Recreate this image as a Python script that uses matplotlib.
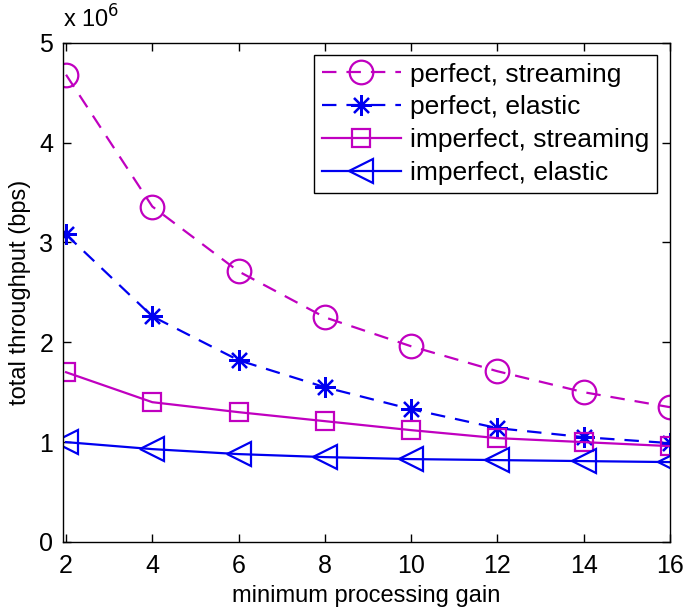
import matplotlib
matplotlib.use("Agg")
import matplotlib.pyplot as plt

plt.rcParams.update({
    "font.family": ["Liberation Sans", "DejaVu Sans"],
    "font.size": 16,
    "xtick.direction": "in",
    "ytick.direction": "in",
    "xtick.top": True,
    "ytick.right": True,
})

# minimum processing gain
gain = [2, 4, 6, 8, 10, 12, 14, 16]

# total throughput, in units of 1e6 bps
perfect_streaming = [4.68, 3.36, 2.71, 2.25, 1.96, 1.71, 1.50, 1.35]
perfect_elastic = [3.08, 2.26, 1.82, 1.55, 1.33, 1.14, 1.05, 0.99]
imperfect_streaming = [1.70, 1.40, 1.30, 1.21, 1.12, 1.04, 1.00, 0.96]
imperfect_elastic = [1.00, 0.93, 0.88, 0.85, 0.83, 0.82, 0.81, 0.80]

MAG = "#c000c0"
BLUE = "#0000f0"
DASH = (0, (6.5, 4.5))

fig = plt.figure(figsize=(6.85, 6.11), dpi=100)
ax = fig.add_axes([0.092, 0.113, 0.886, 0.817])

ax.plot(gain, perfect_streaming, color=MAG, ls=DASH, lw=1.6, marker="o",
        ms=17, mfc="none", mew=1.6, label="perfect, streaming")
ax.plot(gain, perfect_elastic, color=BLUE, ls=DASH, lw=1.6, marker=(8, 2, 0),
        ms=15, mew=1.6, label="perfect, elastic")
ax.plot(gain, imperfect_streaming, color=MAG, ls="-", lw=1.6, marker="s",
        ms=13, mfc="none", mew=1.6, label="imperfect, streaming")
ax.plot(gain, imperfect_elastic, color=BLUE, ls="-", lw=1.6, marker="<",
        ms=17, mfc="none", mew=1.6, label="imperfect, elastic")

ax.set_xlim(1.93, 16)
ax.set_ylim(0, 5)
ax.set_xticks(gain)
ax.set_yticks([0, 1, 2, 3, 4, 5])
ax.tick_params(length=6, width=1, labelsize=18)
ax.tick_params(axis="x", pad=9)
ax.tick_params(axis="y", pad=7)
for s in ax.spines.values():
    s.set_linewidth(1)
    s.set_zorder(5)

ax.set_xlabel("minimum processing gain", fontsize=17, labelpad=5)
ax.set_ylabel("total throughput (bps)", fontsize=17, labelpad=6)
ax.text(0.0, 1.02, r"x 10$^{6}$", transform=ax.transAxes, fontsize=17,
        ha="left", va="bottom")

leg = ax.legend(loc="upper right", bbox_to_anchor=(0.979, 0.976), fontsize=19,
                handlelength=3.0, handletextpad=0.35, borderpad=0.3,
                labelspacing=0.33, fancybox=False, framealpha=1,
                edgecolor="black", borderaxespad=0)
leg.get_frame().set_linewidth(1)

fig.savefig("out.png", dpi=100)
